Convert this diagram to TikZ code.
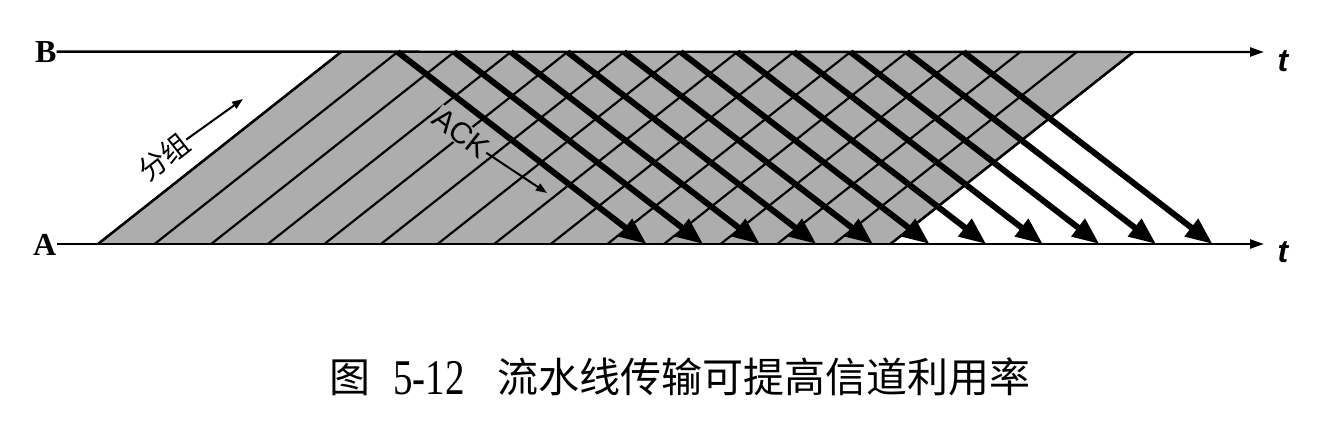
\documentclass[tikz,border=0pt]{standalone}
\usepackage{fontspec}
\setmainfont{Liberation Serif}
\newfontfamily\cjk{Noto Sans CJK SC}
\newfontfamily\tfont{Liberation Sans}
\newfontfamily\numfont[FakeStretch=0.78]{Liberation Serif}
\usetikzlibrary{arrows.meta}
\definecolor{halftone}{gray}{0.68}
\tikzset{
  axisline/.style={line width=2.4pt,-{Triangle[length=14pt,width=9pt]}},
  pktline/.style={line width=2.2pt},
  pktfill/.style={fill=halftone},
  edge/.style={line width=2.4pt},
  ackline/.style={line width=6pt,-{Triangle[length=27pt,width=21pt]}},
  smallarrow/.style={line width=2pt,-{Triangle[length=11pt,width=8pt]}},
  endlab/.style={inner sep=0pt,font=\bfseries\fontsize{32}{32}\selectfont},
  tlab/.style={inner sep=0pt,font=\tfont\bfseries\itshape\fontsize{32}{32}\selectfont},
  cjklab/.style={inner sep=0pt,font=\cjk\fontsize{28}{28}\selectfont},
  acklab/.style={inner sep=1pt,fill=halftone,font=\tfont\fontsize{30}{30}\selectfont},
  caplab/.style={inner sep=0pt,font=\cjk\fontsize{41}{41}\selectfont},
  numlab/.style={inner sep=0pt,font=\numfont\fontsize{50}{50}\selectfont}
}
\begin{document}
\begin{tikzpicture}[x=1pt,y=-1pt]
\useasboundingbox (0,0) rectangle (1334,423);
% packet boundary points on A (bottom) and B (top)
\foreach \k in {0,...,14} {
  \coordinate (pa\k) at ({98+56.6*\k},244);
  \coordinate (pb\k) at ({341+56.6*\k},52);
}
% ACK end points on A
\foreach \j in {1,...,11} {
  \coordinate (ka\j) at ({341+56.6*\j+249},244);
}
% gray channel occupancy
\fill[pktfill] (pa0) -- (pb0) -- (pb14) -- (pa14) -- cycle;
\foreach \k in {0,...,14} { \draw[pktline] (pa\k) -- (pb\k); }
\draw[edge] (pa0) -- (pb0);
\draw[edge] (pa14) -- (pb14);
% axes
\node[endlab,anchor=base west] (Blab) at (35,62) {B};
\node[endlab,anchor=base west] (Alab) at (33,255) {A};
\coordinate (Bend) at (1264,52);
\coordinate (Aend) at (1264,244);
\draw[axisline] (Blab.east) -- (Bend);
\draw[axisline] (Alab.east |- Aend) -- (Aend);
\node[tlab] (tB) at (1283,61) {t};
\node[tlab] (tA) at (1283,252) {t};
% labels
\node[acklab,rotate=-38] (ack) at (461,133) {ACK};
\coordinate (ackend) at (547,193);
\draw[smallarrow] (ack.east) -- (ackend);
% ACK arrows
\foreach \j in {1,...,11} { \draw[ackline] (pb\j) -- (ka\j); }
\node[cjklab,rotate=38] (pkt) at (164,157) {分组};
\coordinate (pktend) at (243,99);
\draw[smallarrow] (pkt.east) -- (pktend);
% caption
\node[caplab,anchor=base west] (fig) at (329,392) {图};
\node[numlab,anchor=base west] (num) at (393,394) {5-12};
\node[caplab,anchor=base west] (cap) at (497,392) {流水线传输可提高信道利用率};
\end{tikzpicture}
\end{document}
